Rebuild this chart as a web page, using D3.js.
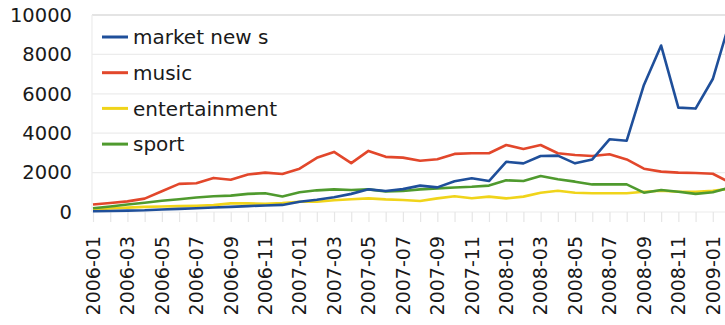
<!DOCTYPE html>
<html>
<head>
<meta charset="utf-8">
<script src="https://cdn.jsdelivr.net/npm/d3@7"></script>
<style>
  body { margin: 0; background: #fff; }
  svg { display: block; font-family: "DejaVu Sans", sans-serif; }
</style>
</head>
<body>
<svg id="chart" width="725" height="325"></svg>
<script>
// months 2006-01 .. 2009-02
const months = [];
for (let y = 2006; y <= 2009; y++) {
  for (let m = 1; m <= 12; m++) {
    if (y === 2009 && m > 2) break;
    months.push(`${y}-${String(m).padStart(2, "0")}`);
  }
}

const marketNews = [40, 50, 70, 90, 130, 160, 190, 230, 260, 300, 330, 360,
  520, 620, 750, 920, 1150, 1070, 1160, 1340, 1250, 1560, 1710, 1570,
  2550, 2470, 2840, 2860, 2470, 2670, 3690, 3620, 6450, 8450, 5300, 5250,
  6750, 9700];
const music = [380, 460, 540, 680, 1050, 1430, 1460, 1730, 1640, 1900, 2000, 1930,
  2200, 2750, 3050, 2480, 3100, 2800, 2760, 2600, 2680, 2950, 2980, 2980,
  3400, 3200, 3400, 2980, 2890, 2840, 2930, 2670, 2200, 2050, 2000, 1980,
  1940, 1500];
const entertainment = [130, 180, 220, 260, 280, 300, 320, 350, 440, 440, 410, 450,
  520, 520, 600, 650, 690, 640, 610, 560, 690, 800, 700, 780,
  690, 780, 980, 1080, 980, 950, 950, 950, 1030, 1080, 1030, 1030,
  1080, 1180];
const sport = [190, 280, 380, 470, 570, 650, 740, 800, 830, 920, 950, 790,
  1000, 1100, 1150, 1120, 1150, 1040, 1070, 1150, 1200, 1240, 1280, 1340,
  1610, 1570, 1830, 1660, 1540, 1400, 1400, 1400, 980, 1120, 1030, 920,
  1000, 1250];

const seriesNames = ["market new s", "music", "entertainment", "sport"];
const seriesValues = [marketNews, music, entertainment, sport];
const colors = ["#1f4f9a", "#e2472b", "#f0d41a", "#4f9a2e"];
const yTicks = [0, 2000, 4000, 6000, 8000, 10000];

const svg = d3.select("#chart");

const x = d3.scalePoint().domain(months).range([93, 730]);
const y = d3.scaleLinear().domain([0, 10000]).range([212, 15]);

// gridlines
svg.append("g")
  .selectAll("line")
  .data(yTicks)
  .join("line")
  .attr("x1", 92).attr("x2", 725)
  .attr("y1", d => y(d)).attr("y2", d => y(d))
  .attr("stroke", d => d === 10000 ? "#e4e4e4" : "#ececec")
  .attr("stroke-width", d => d === 10000 ? 2 : 1.2);

svg.append("line")
  .attr("x1", 92).attr("x2", 92)
  .attr("y1", y(10000)).attr("y2", y(0))
  .attr("stroke", "#ececec").attr("stroke-width", 1.2);

// y axis labels
const yAxis = g => g
  .attr("transform", "translate(72,0)")
  .call(d3.axisLeft(y).tickValues(yTicks).tickFormat(d3.format("d")).tickSize(0).tickPadding(0))
  .call(g => g.select(".domain").remove())
  .call(g => g.selectAll("text")
    .attr("font-size", 19.5)
    .attr("font-family", "DejaVu Sans, sans-serif")
    .attr("fill", "#1a1a1a"));
svg.append("g").call(yAxis);

// x axis: month ticks + labels every 2 months
const xAxis = g => g
  .attr("transform", `translate(0,${y(0)})`)
  .call(d3.axisBottom(x).tickSize(10).tickFormat(""))
  .call(g => g.select(".domain").remove())
  .call(g => g.selectAll(".tick line").attr("stroke", "#e6e6e6").attr("stroke-width", 1.2));
svg.append("g").call(xAxis);

svg.append("g")
  .selectAll("text")
  .data(months.filter((d, i) => i % 2 === 0))
  .join("text")
  .attr("transform", d => `translate(${x(d)},236) rotate(-90)`)
  .attr("text-anchor", "end")
  .attr("dy", "0.36em")
  .attr("font-size", 19)
  .attr("fill", "#1a1a1a")
  .text(d => d);

// lines
const line = d3.line()
  .x((d, i) => x(months[i]))
  .y(d => y(d));

// draw order: entertainment, sport, music, market news on top
[2, 3, 1, 0].forEach(k => {
  svg.append("path")
    .datum(seriesValues[k])
    .attr("fill", "none")
    .attr("stroke", colors[k])
    .attr("stroke-width", 2.6)
    .attr("stroke-linejoin", "round")
    .attr("d", line);
});

// legend
const legend = svg.append("g")
  .selectAll("g")
  .data(seriesNames)
  .join("g")
  .attr("transform", (d, i) => `translate(102,${37 + i * 35.7})`);

legend.append("line")
  .attr("x1", 0).attr("x2", 26)
  .attr("stroke", (d, i) => colors[i])
  .attr("stroke-width", 3);

legend.append("text")
  .attr("x", 31)
  .attr("dy", "0.36em")
  .attr("font-size", 20)
  .attr("fill", "#1a1a1a")
  .text(d => d);
</script>
</body>
</html>
